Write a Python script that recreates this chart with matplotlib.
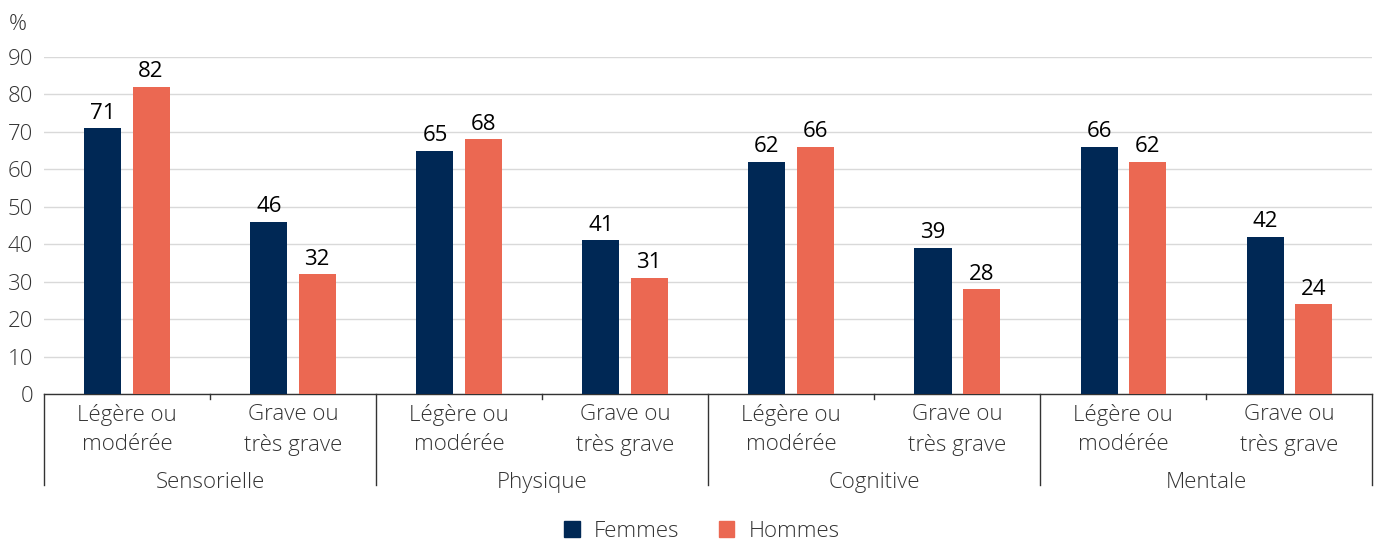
import numpy as np
import matplotlib.pyplot as plt
from matplotlib.patches import Patch

groups = ["Sensorielle", "Physique", "Cognitive", "Mentale"]
sublabels = ["Légère ou\nmodérée", "Grave ou\ntrès grave"]
femmes = [71, 46, 65, 41, 62, 39, 66, 42]
hommes = [82, 32, 68, 31, 66, 28, 62, 24]

navy = "#002855"
coral = "#EB6852"
txt = "#333333"

plt.rcParams['font.family'] = ['Open Sans', 'DejaVu Sans']
plt.rcParams['font.weight'] = 'light'

fig = plt.figure(figsize=(13.79, 5.4), dpi=100)
ax = fig.add_axes([0.0319, 0.2704, 0.9631, 0.624])

x = np.arange(len(femmes)) + 0.5
w = 0.223
off = 0.145
b1 = ax.bar(x - off, femmes, w, color=navy, zorder=3)
b2 = ax.bar(x + off, hommes, w, color=coral, zorder=3)
for bars in (b1, b2):
    for r in bars:
        ax.text(r.get_x() + r.get_width() / 2, r.get_height() + 1.2, f"{int(r.get_height())}",
                ha="center", va="bottom", fontsize=16, color="black", fontweight="normal")

ax.set_xlim(0, len(femmes))
ax.set_ylim(0, 90)
ax.set_yticks(range(0, 91, 10))
ax.yaxis.grid(True, color="#d9d9d9", lw=1, zorder=0)
ax.tick_params(axis="y", length=0, labelsize=16, labelcolor=txt, pad=8)
ax.set_xticks([])
for s in ["top", "right", "left"]:
    ax.spines[s].set_visible(False)
ax.spines["bottom"].set_color("#333333")
ax.spines["bottom"].set_linewidth(1)

trans = ax.get_xaxis_transform()
# sub labels
for i, xi in enumerate(x):
    ax.text(xi, -0.031, sublabels[i % 2], transform=trans, ha="center", va="top",
            fontsize=16, color=txt, linespacing=1.5, clip_on=False)
# small ticks between subcategories, group names
for g in range(len(groups)):
    ax.plot([2 * g + 1, 2 * g + 1], [0, -0.015], transform=trans, color="#333333", lw=1, clip_on=False)
    ax.text(2 * g + 1, -0.232, groups[g], transform=trans, ha="center", va="top",
            fontsize=16, color=txt, clip_on=False)
# group separators
for g in range(len(groups) + 1):
    ax.plot([2 * g, 2 * g], [0, -0.27], transform=trans, color="#333333", lw=1, clip_on=False)

fig.text(0.006, 0.955, "%", fontsize=16, color=txt, va="center")

handles = [Patch(color=navy, label="Femmes"), Patch(color=coral, label="Hommes")]
fig.legend(handles=handles, loc="center", bbox_to_anchor=(0.509, 0.016), ncol=2, frameon=False,
           fontsize=16, handlelength=0.7, handleheight=0.7, handletextpad=0.65,
           columnspacing=1.75, labelcolor=txt)

fig.savefig("out.png", dpi=100)
